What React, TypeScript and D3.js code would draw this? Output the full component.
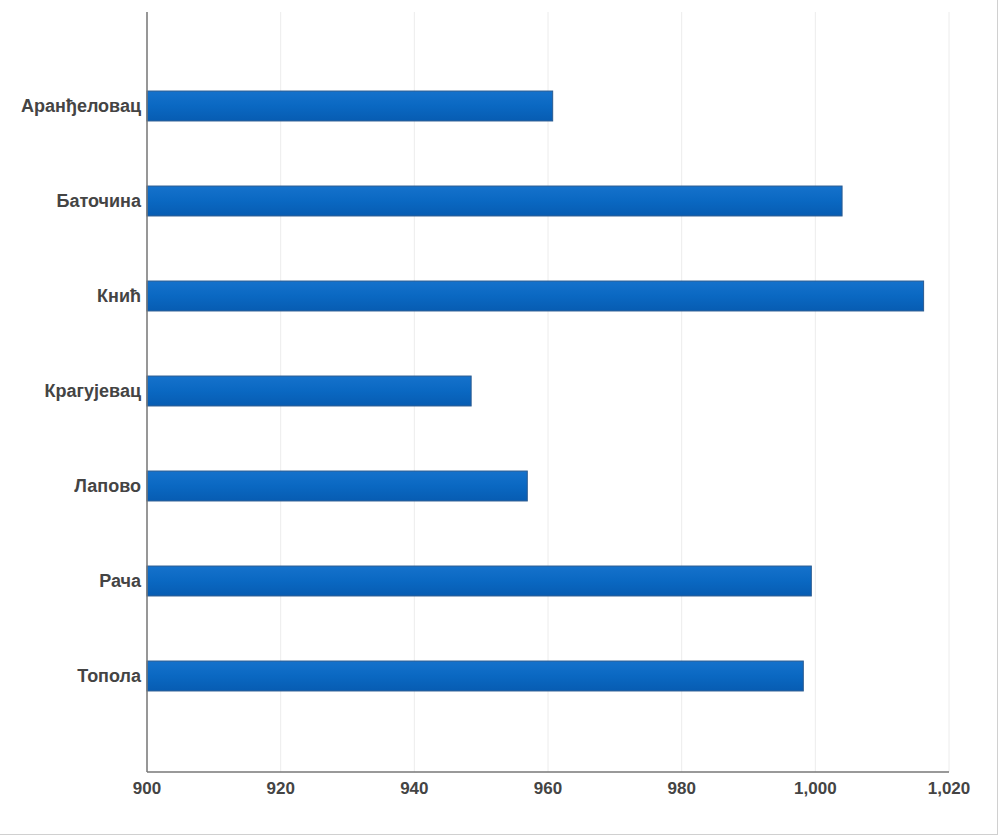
import React from "react";
import * as d3 from "d3";

const categories = ["Аранђеловац", "Баточина", "Кнић", "Крагујевац", "Лапово", "Рача", "Топола"];
const values = [960.7, 1004, 1016.2, 948.5, 956.9, 999.4, 998.2];
const tickValues = [900, 920, 940, 960, 980, 1000, 1020];

const W = 1000, H = 839;
const left = 147, right = 949, top = 12, bottom = 772;

export default function App() {
  const x = d3.scaleLinear().domain([900, 1020]).range([left, right]);
  const y = d3.scaleBand<string>().domain(categories).range([58.5, 723.5]).paddingInner(0.685).paddingOuter(0.3425);
  const fmt = d3.format(",");
  return (
    <div style={{ position: "fixed", left: 0, top: 0 }}>
      <svg width={W} height={H} style={{ display: "block", fontFamily: "'Liberation Sans', Arial, sans-serif" }}>
        <defs>
          <linearGradient id="barg" x1="0" y1="0" x2="0" y2="1">
            <stop offset="0" stopColor="#1572cc" />
            <stop offset="0.5" stopColor="#0a68c2" />
            <stop offset="1" stopColor="#075cb2" />
          </linearGradient>
        </defs>
        <rect x={0} y={0} width={W} height={H} fill="#fff" />
        <line x1={997.5} x2={997.5} y1={0} y2={835} stroke="#d0d0d0" />
        <line x1={0} x2={998} y1={834.5} y2={834.5} stroke="#d0d0d0" />
        {tickValues.map((t) => (
          <line key={"g" + t} x1={x(t)} x2={x(t)} y1={top} y2={bottom} stroke="#ececec" strokeWidth={1} />
        ))}
        {categories.map((c, i) => (
          <rect key={c} x={x(900)} y={y(c)!} width={x(values[i]) - x(900)} height={y.bandwidth()}
            fill="url(#barg)" stroke="#2a5a90" strokeWidth={1} />
        ))}
        <line x1={left} x2={left} y1={top} y2={bottom} stroke="#777" strokeWidth={1.5} />
        <line x1={left} x2={right} y1={bottom} y2={bottom} stroke="#777" strokeWidth={1.5} />
        {categories.map((c) => (
          <text key={"l" + c} x={141} y={y(c)! + y.bandwidth() / 2} dy="0.35em" textAnchor="end"
            fontSize={18} fontWeight="bold" fill="#444">{c}</text>
        ))}
        {tickValues.map((t) => (
          <text key={"t" + t} x={x(t)} y={794} textAnchor="middle" fontSize={17} fontWeight="bold" fill="#444">{fmt(t)}</text>
        ))}
      </svg>
    </div>
  );
}
